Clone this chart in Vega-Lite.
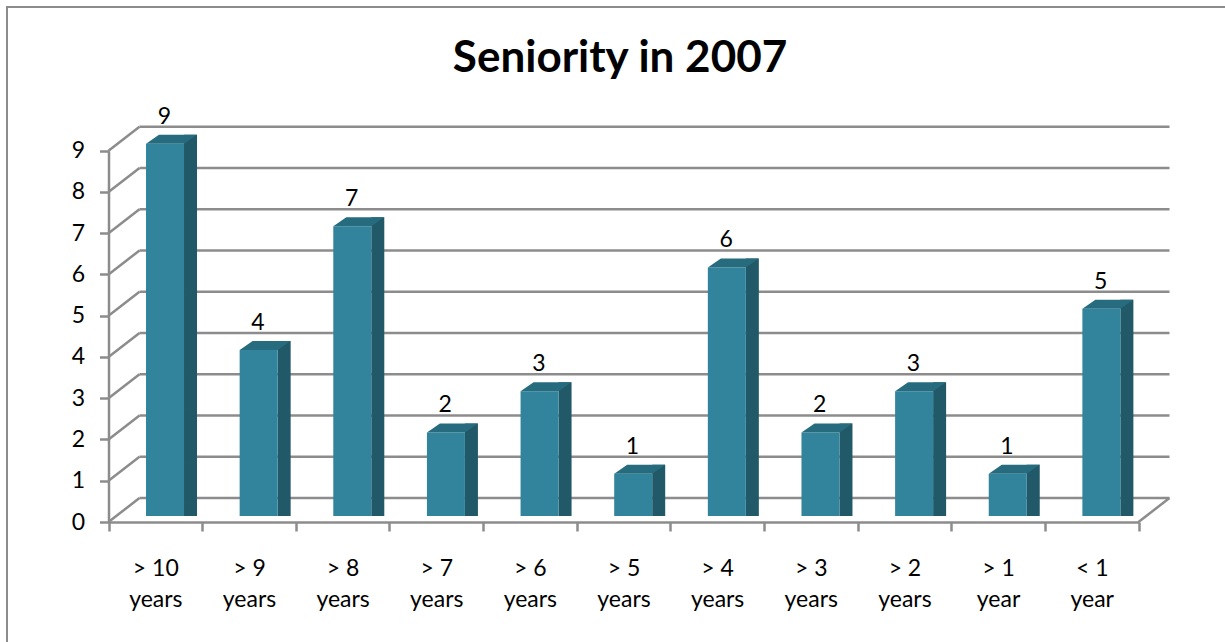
{
  "$schema": "https://vega.github.io/schema/vega-lite/v6.json",
  "autosize": {"type": "none"},
  "padding": {"left": 7, "top": 7, "right": 0, "bottom": 0},
  "width": 1218,
  "height": 635,
  "background": "white",
  "title": {"text": "Seniority in 2007", "anchor": "middle", "frame": "group", "baseline": "middle", "offset": -96, "dx": 4},
  "datasets": {
    "seniority": [
      {"category": "> 10 years", "count": 9},
      {"category": "> 9 years", "count": 4},
      {"category": "> 8 years", "count": 7},
      {"category": "> 7 years", "count": 2},
      {"category": "> 6 years", "count": 3},
      {"category": "> 5 years", "count": 1},
      {"category": "> 4 years", "count": 6},
      {"category": "> 3 years", "count": 2},
      {"category": "> 2 years", "count": 3},
      {"category": "> 1 year", "count": 1},
      {"category": "< 1 year", "count": 5}
    ],
    "grid": [
      {"v": 0}, {"v": 1}, {"v": 2}, {"v": 3}, {"v": 4},
      {"v": 5}, {"v": 6}, {"v": 7}, {"v": 8}, {"v": 9}
    ],
    "floor": [{"v": 0}]
  },
  "layer": [
    {
      "data": {"name": "grid"},
      "mark": {"type": "rule", "stroke": "#8c8c8c", "strokeWidth": 2.5, "xOffset": 31, "x2Offset": 31, "yOffset": -24},
      "encoding": {
        "x": {"datum": "> 10 years", "type": "nominal", "bandPosition": 0, "title": null,
              "scale": {"domain": ["> 10 years", "> 9 years", "> 8 years", "> 7 years", "> 6 years", "> 5 years", "> 4 years", "> 3 years", "> 2 years", "> 1 year", "< 1 year"], "range": [101.5, 1131.5], "paddingInner": 0, "paddingOuter": 0}},
        "x2": {"datum": "< 1 year", "bandPosition": 1},
        "y": {"field": "v", "type": "quantitative", "title": null,
              "scale": {"domain": [0, 9], "range": [515, 143.7], "nice": false, "zero": true}}
      }
    },
    {
      "data": {"name": "grid"},
      "mark": {"type": "rule", "stroke": "#8c8c8c", "strokeWidth": 2.5, "x2Offset": 31, "y2Offset": -24},
      "encoding": {
        "x": {"datum": "> 10 years", "type": "nominal", "bandPosition": 0, "title": null},
        "x2": {"datum": "> 10 years", "bandPosition": 0},
        "y": {"field": "v", "type": "quantitative", "title": null},
        "y2": {"field": "v"}
      }
    },
    {
      "data": {"name": "floor"},
      "mark": {"type": "rule", "stroke": "#8c8c8c", "strokeWidth": 2.5, "x2Offset": 31, "y2Offset": -24},
      "encoding": {
        "x": {"datum": "< 1 year", "type": "nominal", "bandPosition": 1, "title": null},
        "x2": {"datum": "< 1 year", "bandPosition": 1},
        "y": {"field": "v", "type": "quantitative", "title": null},
        "y2": {"field": "v"}
      }
    },
    {
      "data": {"name": "seniority"},
      "mark": {"type": "bar", "width": 13, "color": "#215968", "xOffset": 35.2, "yOffset": -16, "y2Offset": -6},
      "encoding": {
        "x": {"field": "category", "type": "nominal", "title": null, "sort": null},
        "y": {"field": "count", "type": "quantitative", "title": null},
        "y2": {"datum": 0}
      }
    },
    {
      "data": {"name": "seniority"},
      "mark": {"type": "bar", "width": 38, "color": "#31849b", "xOffset": 9.7, "yOffset": -7, "y2Offset": -6},
      "encoding": {
        "x": {"field": "category", "type": "nominal", "sort": null, "title": null},
        "y": {"field": "count", "type": "quantitative", "title": null},
        "y2": {"datum": 0}
      }
    },
    {
      "data": {"name": "seniority"},
      "mark": {"type": "point", "shape": "M-19,0L19,0L32,-9L-6,-9Z", "size": 4, "filled": true, "opacity": 1, "color": "#276c7e", "strokeWidth": 0, "xOffset": 9.7, "yOffset": -7},
      "encoding": {
        "x": {"field": "category", "type": "nominal", "title": null, "sort": null},
        "y": {"field": "count", "type": "quantitative", "title": null}
      }
    },
    {
      "data": {"name": "seniority"},
      "mark": {"type": "text", "fontSize": 23, "font": "Lato", "color": "black", "baseline": "middle", "xOffset": 9, "yOffset": -34},
      "encoding": {
        "x": {"field": "category", "type": "nominal", "title": null, "sort": null},
        "y": {"field": "count", "type": "quantitative", "title": null},
        "text": {"field": "count"}
      }
    }
  ],
  "config": {
    "view": {"stroke": "#8c8c8c", "strokeWidth": 2, "strokeDash": [1218, 1853, 640]},
    "title": {"font": "Lato", "fontSize": 44, "fontWeight": "bold", "color": "black"},
    "axis": {
      "domainColor": "#8c8c8c", "domainWidth": 2.5,
      "tickColor": "#8c8c8c", "tickWidth": 2.5, "tickSize": 9,
      "labelFont": "Lato", "labelFontSize": 23, "labelColor": "black",
      "grid": false
    },
    "axisX": {
      "labelExpr": "[slice(datum.label, 0, indexof(datum.label, 'y') - 1), slice(datum.label, indexof(datum.label, 'y'))]",
      "offset": -120, "tickBand": "extent", "labelAngle": 0, "labelPadding": 26, "labelLineHeight": 31, "labelBaseline": "top"
    },
    "axisY": {"offset": -101.5, "tickCount": 9, "labelPadding": 15}
  }
}
